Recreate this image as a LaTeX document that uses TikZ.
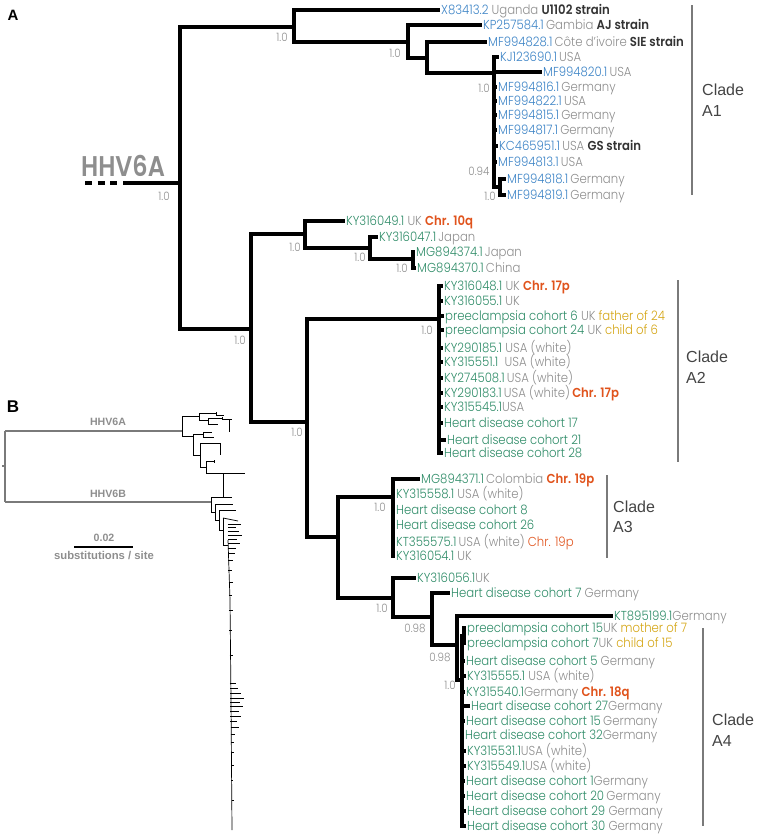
\documentclass[tikz,border=0pt]{standalone}
\usepackage{fontspec}
\setmainfont{Poppins Light}[FakeStretch=0.9, BoldFont=Poppins SemiBold]
\newfontfamily\bigfont{Poppins SemiBold}[FakeStretch=0.84]
\newfontfamily\hel{Liberation Sans}
\definecolor{cblue}{HTML}{3D84C6}
\definecolor{cgreen}{HTML}{2F8C68}
\definecolor{cgray}{HTML}{8E8E8E}
\definecolor{cdark}{HTML}{333333}
\definecolor{corange}{HTML}{E0531C}
\definecolor{cgold}{HTML}{D4A514}
\definecolor{cbar}{HTML}{7A7A7A}
\definecolor{cclade}{HTML}{444444}
\newcommand{\ida}[1]{\textcolor{cblue}{#1}}
\newcommand{\idg}[1]{\textcolor{cgreen}{#1}}
\newcommand{\cty}[1]{\textcolor{cgray}{#1}}
\newcommand{\stn}[1]{\textcolor{cdark}{\bfseries #1}}
\newcommand{\chrb}[1]{\textcolor{corange}{\bfseries #1}}
\newcommand{\chrr}[1]{\textcolor{corange}{#1}}
\newcommand{\famrel}[1]{\textcolor{cgold}{#1}}
\tikzset{
  br/.style={line width=4.3pt, line join=miter},
  leaf/.style={anchor=west, inner sep=1pt, text height=8.5pt, text depth=0pt, font=\fontsize{13}{14}\selectfont},
  bs/.style={inner sep=0pt, text=cgray, font=\fontsize{11.5}{12}\selectfont},
  cbarline/.style={line width=2.4pt, cbar},
  cladelab/.style={anchor=west, inner sep=0pt, align=left, text=cclade, font=\hel\fontsize{16}{20.5}\selectfont},
  btree/.style={line width=0.7pt, black},
  broot/.style={line width=1.1pt, cbar},
  blab/.style={inner sep=0pt, text=cgray, font=\hel\bfseries\fontsize{10.6}{11}\selectfont},
  slab/.style={inner sep=0pt, text=cgray, font=\hel\bfseries\fontsize{11.3}{12}\selectfont},
  panel/.style={inner sep=0pt, font=\hel\bfseries\fontsize{15}{15}\selectfont}
}
\begin{document}
\begin{tikzpicture}[x=1pt,y=-1pt]
\useasboundingbox (0,0) rectangle (757,838);
% panel letters
\node[panel] (pA) at (13,15) {A};
\node[panel, font=\hel\bfseries\fontsize{17}{17}\selectfont] (pB) at (13,407) {B};
% ---------- internal nodes ----------
\coordinate (R) at (180,183);
\coordinate (n1) at (294,27);
\coordinate (n2) at (251,329);
\coordinate (n3) at (408,42);
\coordinate (n4) at (427,58);
\coordinate (n5) at (494,73);
\coordinate (n6) at (500,187);
\coordinate (n7) at (305,234);
\coordinate (n9) at (370,248);
\coordinate (n10) at (413,259);
\coordinate (n8) at (307,422);
\coordinate (nA2) at (439,319);
\coordinate (n11) at (338,537);
\coordinate (n12) at (393,497);
\coordinate (n13) at (393,598);
\coordinate (n14) at (432,617);
\coordinate (n15) at (457,645);
\coordinate (nA4) at (462,680);
\coordinate (nP) at (464,636);
\coordinate (stubL) at (123,183);
\coordinate (dashL) at (85,183);
\coordinate (dashR) at (118,183);
% HHV6A root stub
\node[inner sep=0pt, text=cgray, font=\bigfont\fontsize{28.5}{29}\selectfont] (hhv) at (123,166) {HHV6A};
\draw[br, dash pattern=on 7pt off 5.5pt] (dashL) -- (dashR);
\draw[br] (stubL) -- (R);
% ---------- leaves: A1 ----------
\node[leaf] (L1) at (440,10) {\ida{X83413.2} \cty{Uganda} \stn{U1102 strain}};
\node[leaf] (L2) at (482,25) {\ida{KP257584.1}\,\cty{Gambia} \stn{AJ strain}};
\node[leaf] (L3) at (487,42) {\ida{MF994828.1}\,\cty{Côte d'ivoire} \stn{SIE strain}};
\node[leaf] (L4) at (499,57) {\ida{KJ123690.1}\,\cty{USA}};
\node[leaf] (L5) at (542,72) {\ida{MF994820.1}\,\cty{USA}};
\node[leaf] (L6) at (497,87) {\ida{MF994816.1}\,\cty{Germany}};
\node[leaf] (L7) at (497,101) {\ida{MF994822.1}\,\cty{USA}};
\node[leaf] (L8) at (497,115) {\ida{MF994815.1}\,\cty{Germany}};
\node[leaf] (L9) at (497,130) {\ida{MF994817.1}\,\cty{Germany}};
\node[leaf] (L10) at (498,146) {\ida{KC465951.1}\,\cty{USA} \stn{GS strain}};
\node[leaf] (L11) at (497,162) {\ida{MF994813.1}\,\cty{USA}};
\node[leaf] (L12) at (506,179) {\ida{MF994818.1}\,\cty{Germany}};
\node[leaf] (L13) at (506,195) {\ida{MF994819.1}\,\cty{Germany}};
% ---------- leaves: upper green ----------
\node[leaf] (K1) at (345,221) {\idg{KY316049.1} \cty{UK} \chrb{Chr. 10q}};
\node[leaf] (K2) at (378,237) {\idg{KY316047.1}\,\cty{Japan}};
\node[leaf] (K3) at (415,252) {\idg{MG894374.1}\,\cty{Japan}};
\node[leaf] (K4) at (416,268) {\idg{MG894370.1}\,\cty{China}};
% ---------- A2 ----------
\node[leaf] (M1) at (443,286) {\idg{KY316048.1} \cty{UK} \chrb{Chr. 17p}};
\node[leaf] (M2) at (443,301) {\idg{KY316055.1} \cty{UK}};
\node[leaf] (M3) at (444,316) {\idg{preeclampsia cohort 6} \cty{UK} \famrel{father of 24}};
\node[leaf] (M4) at (444,330) {\idg{preeclampsia cohort 24} \cty{UK} \famrel{child of 6}};
\node[leaf] (M5) at (443,348) {\idg{KY290185.1} \cty{USA (white)}};
\node[leaf] (M6) at (443,362) {\idg{KY315551.1} \ \cty{USA (white)}};
\node[leaf] (M7) at (443,378) {\idg{KY274508.1}\,\cty{USA (white)}};
\node[leaf] (M8) at (443,393) {\idg{KY290183.1}\,\cty{USA (white)}\,\chrb{Chr. 17p}};
\node[leaf] (M9) at (443,407) {\idg{KY315545.1}\cty{USA}};
\node[leaf] (M10) at (443,423) {\idg{Heart disease cohort 17}};
\node[leaf] (M11) at (446,440) {\idg{Heart disease cohort 21}};
\node[leaf] (M12) at (443,453) {\idg{Heart disease cohort 28}};
% ---------- A3 ----------
\node[leaf] (P1) at (420,479) {\idg{MG894371.1}\,\cty{Colombia} \chrb{Chr. 19p}};
\node[leaf] (P2) at (395,494) {\idg{KY315558.1} \cty{USA (white)}};
\node[leaf] (P3) at (395,510) {\idg{Heart disease cohort 8}};
\node[leaf] (P4) at (395,525) {\idg{Heart disease cohort 26}};
\node[leaf] (P5) at (395,542) {\idg{KT355575.1}\,\cty{USA (white)} \chrr{Chr. 19p}};
\node[leaf] (P6) at (395,556) {\idg{KY316054.1} \cty{UK}};
% ---------- lower ----------
\node[leaf] (Q1) at (416,578) {\idg{KY316056.1}\cty{UK}};
\node[leaf] (Q2) at (450,593) {\idg{Heart disease cohort 7} \cty{Germany}};
\node[leaf] (Q3) at (613,616) {\idg{KT895199.1}\cty{Germany}};
% ---------- A4 ----------
\node[leaf] (S1) at (466,628) {\idg{preeclampsia cohort 15}\cty{UK} \famrel{mother of 7}};
\node[leaf] (S2) at (466,643) {\idg{preeclampsia cohort 7}\cty{UK} \famrel{child of 15}};
\node[leaf] (S3) at (465,661) {\idg{Heart disease cohort 5} \cty{Germany}};
\node[leaf] (S4) at (466,676) {\idg{KY315555.1} \cty{USA (white)}};
\node[leaf] (S5) at (465,692) {\idg{KY315540.1}\cty{Germany} \chrb{Chr. 18q}};
\node[leaf] (S6) at (470,706) {\idg{Heart disease cohort 27}\cty{Germany}};
\node[leaf] (S7) at (465,721) {\idg{Heart disease cohort 15}\,\cty{Germany}};
\node[leaf] (S8) at (464,735) {\idg{Heart disease cohort 32}\cty{Germany}};
\node[leaf] (S9) at (466,751) {\idg{KY315531.1}\cty{USA (white)}};
\node[leaf] (S10) at (466,766) {\idg{KY315549.1}\cty{USA (white)}};
\node[leaf] (S11) at (465,781) {\idg{Heart disease cohort 1}\cty{Germany}};
\node[leaf] (S12) at (465,796) {\idg{Heart disease cohort 20}\,\cty{Germany}};
\node[leaf] (S13) at (466,811) {\idg{Heart disease cohort 29} \cty{Germany}};
\node[leaf] (S14) at (466,826) {\idg{Heart disease cohort 30} \cty{Germany}};
% ---------- branches ----------
\draw[br] (R) |- (n1); \draw[br] (R) |- (n2);
\draw[br] (n1) |- (L1.west); \draw[br] (n1) |- (n3);
\draw[br] (n3) |- (L2.west); \draw[br] (n3) |- (n4);
\draw[br] (n4) |- (L3.west); \draw[br] (n4) |- (n5);
\foreach \l in {L4,L5,L6,L7,L8,L9,L10,L11} \draw[br] (n5) |- (\l.west);
\draw[br] (n5) |- (n6);
\draw[br] (n6) |- (L12.west); \draw[br] (n6) |- (L13.west);
\draw[br] (n2) |- (n7); \draw[br] (n2) |- (n8);
\draw[br] (n7) |- (K1.west); \draw[br] (n7) |- (n9);
\draw[br] (n9) |- (K2.west); \draw[br] (n9) |- (n10);
\draw[br] (n10) |- (K3.west); \draw[br] (n10) |- (K4.west);
\draw[br] (n8) |- (nA2); \draw[br] (n8) |- (n11);
\foreach \l in {M1,M2,M3,M4,M5,M6,M7,M8,M9,M10,M11,M12} \draw[br] (nA2) |- (\l.west);
\draw[br] (n11) |- (n12); \draw[br] (n11) |- (n13);
\foreach \l in {P1,P2,P3,P4,P5,P6} \draw[br] (n12) |- (\l.west);
\draw[br] (n13) |- (Q1.west); \draw[br] (n13) |- (n14);
\draw[br] (n14) |- (Q2.west); \draw[br] (n14) |- (n15);
\draw[br] (n15) |- (Q3.west); \draw[br] (n15) |- (nA4);
\draw[br] (nA4) |- (nP);
\draw[br] (nP) |- (S1.west); \draw[br] (nP) |- (S2.west);
\foreach \l in {S3,S4,S5,S6,S7,S8,S9,S10,S11,S12,S13,S14} \draw[br] (nA4) |- (\l.west);
% ---------- support values ----------
\node[bs] (b0) at (164,196) {1.0};
\node[bs] (b1) at (282,37) {1.0};
\node[bs] (b2) at (240,340) {1.0};
\node[bs] (b3) at (395,53) {1.0};
\node[bs] (b4) at (484,88) {1.0};
\node[bs] (b5) at (479,171) {0.94};
\node[bs] (b6) at (490,196) {1.0};
\node[bs] (b7) at (295,247) {1.0};
\node[bs] (b8) at (360,257) {1.0};
\node[bs] (b9) at (402,268) {1.0};
\node[bs] (b10) at (427,330) {1.0};
\node[bs] (b11) at (297,432) {1.0};
\node[bs] (b12) at (380,507) {1.0};
\node[bs] (b13) at (382,608) {1.0};
\node[bs] (b14) at (415,628) {0.98};
\node[bs] (b15) at (440,657) {0.98};
\node[bs] (b16) at (450,685) {1.0};
% ---------- clade bars ----------
\coordinate (c1a) at (692,5); \coordinate (c1b) at (692,195);
\coordinate (c2a) at (678,280); \coordinate (c2b) at (678,462);
\coordinate (c3a) at (607,475); \coordinate (c3b) at (607,558);
\coordinate (c4a) at (703,628); \coordinate (c4b) at (703,826);
\draw[cbarline] (c1a) -- (c1b);
\draw[cbarline] (c2a) -- (c2b);
\draw[cbarline] (c3a) -- (c3b);
\draw[cbarline] (c4a) -- (c4b);
\node[cladelab] (cl1) at (702,100) {Clade\\A1};
\node[cladelab] (cl2) at (686,367) {Clade\\A2};
\node[cladelab] (cl3) at (613,517) {Clade\\A3};
\node[cladelab] (cl4) at (712,730) {Clade\\A4};
% ---------- panel B ----------
\coordinate (bR1) at (5,431); \coordinate (bR2) at (5,502);
\coordinate (bA) at (182,431); \coordinate (bB) at (211,502);
\draw[broot] (bR1) -- (bR2);
\draw[broot] (2,466) -- (5,466);
\draw[broot] (bR1) -- (bA);
\draw[broot] (bR2) -- (bB);
\node[blab] (lA) at (108,422) {HHV6A};
\node[blab] (lB) at (108,494) {HHV6B};
% HHV6A small subtree
\draw[btree] (182,416) -- (182,436);
\draw[btree] (182,416) -- (199,416);
\draw[btree] (199,413) -- (199,420);
\draw[btree] (199,413) -- (216,413) (216,412) -- (216,415) (216,415) -- (224,415);
\draw[btree] (199,420) -- (208,420) (208,418) -- (208,424);
\draw[btree] (208,418) -- (222,418) (222,417) -- (222,420) (222,419) -- (232,419);
\draw[btree] (208,424) -- (218,424);
\draw[btree] (229,419) -- (229,432);
\draw[btree] (182,436) -- (193,436) (193,434) -- (193,455);
\draw[btree] (193,434) -- (203,434) (203,432) -- (203,437) (203,432) -- (212,432) (203,437) -- (214,437);
\draw[btree] (193,455) -- (200,455) (200,443) -- (200,467);
\draw[btree] (200,443) -- (220,443) (220,443) -- (220,455);
\draw[btree] (200,467) -- (206,467) (206,461) -- (206,473);
\draw[btree] (206,461) -- (214,461) (214,460) -- (214,463);
\draw[btree] (206,473) -- (245,473);
\draw[btree] (223,473) -- (223,497);
% HHV6B subtree
\draw[btree] (211,497) -- (211,512);
\draw[btree] (211,497) -- (232,497);
\draw[btree] (211,512) -- (215,512) (215,504) -- (215,520);
\draw[btree] (215,504) -- (233,504);
\draw[btree] (215,520) -- (219,520) (219,510) -- (219,530);
\draw[btree] (219,510) -- (236,510);
\draw[btree] (219,530) -- (223,530) (223,518) -- (223,545);
\draw[btree] (223,518) -- (238,521);
\draw[btree] (223,545) -- (228,545);
\draw[btree] (228,540) -- (230,600) -- (231,700) -- (232,830);
\foreach \y/\xe in {524/241,527/236,531/239,535/242,539/237,543/240,548/236,553/235,560/233,570/232,582/233,595/232,610/233,630/232,655/233,683/236,688/238,693/241,698/244,702/240,706/243,711/239,716/241,721/237,727/239,734/235,742/234,752/234,765/234,780/233,800/234}
  { \pgfmathsetmacro{\tx}{228+4*(\y-540)/290}
    \draw[btree] (\tx,\y) -- (\xe,\y); }
% scale bar
\coordinate (sbL) at (74,547); \coordinate (sbR) at (133,547);
\draw[line width=1.3pt] (sbL) -- (sbR);
\node[blab] (s1) at (104,538) {0.02};
\node[slab] (s2) at (104,556) {substitutions / site};
\end{tikzpicture}
\end{document}
